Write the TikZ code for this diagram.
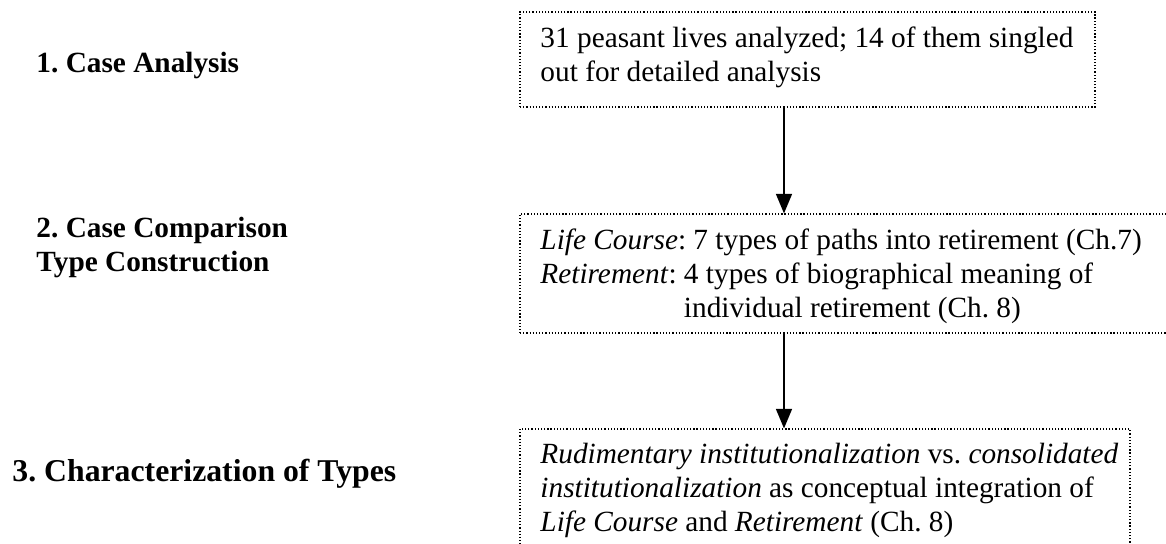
\documentclass[tikz,border=0pt]{standalone}
\usepackage{fontspec}
\setmainfont{Liberation Serif}
\usetikzlibrary{arrows.meta,fit}
\tikzset{
  framebox/.style={draw=black, line width=0.45pt, dash pattern=on 0.5pt off 0.8pt, inner sep=0pt},
  boxline/.style={anchor=base west, inner sep=0pt, font=\fontsize{12pt}{14pt}\selectfont},
  stagelabel/.style={anchor=base west, inner sep=0pt, font=\bfseries\fontsize{12pt}{14pt}\selectfont},
  biglabel/.style={anchor=base west, inner sep=0pt, font=\bfseries\fontsize{13pt}{15pt}\selectfont},
  flow/.style={line width=0.8pt, -{Triangle[length=8pt,width=6.5pt]}}
}
\begin{document}
\frenchspacing
\begin{tikzpicture}[x=0.4096pt,y=-0.4096pt]
\useasboundingbox (0,0) rectangle (1166,544);
\clip (0,0) rectangle (1166,544);

% stage labels
\node[stagelabel] (l1)  at (36,73)  {1. Case Analysis};
\node[stagelabel] (l2a) at (36,238) {2. Case Comparison};
\node[stagelabel] (l2b) at (36,272) {Type Construction};
\node[biglabel]   (l3)  at (12,482) {3. Characterization of Types};

% dotted frames
\node[framebox, fit={(520,12) (1095,107)}] (b1) {};
\node[framebox, fit={(520,214) (1190,333)}] (b2) {};
\node[framebox, fit={(520,429) (1130,580)}] (b3) {};

% box contents
\node[boxline] (t1a) at (540,48) {31 peasant lives analyzed; 14 of them singled};
\node[boxline] (t1b) at (540,82) {out for detailed analysis};

\node[boxline] (t2a) at (540,250) {\textit{Life Course}: 7 types of paths into retirement (Ch.7)};
\node[boxline] (t2b) at (540,284) {\textit{Retirement}: 4 types of biographical meaning of};
\node[boxline] (t2c) at (540,318) {\hphantom{\textit{Retirement}: }individual retirement (Ch. 8)};

\node[boxline] (t3a) at (540,464) {\textit{Rudimentary institutionalization} vs. \textit{consolidated}};
\node[boxline] (t3b) at (540,498) {\textit{institutionalization} as conceptual integration of};
\node[boxline] (t3c) at (540,532) {\textit{Life Course} and \textit{Retirement} (Ch. 8)};

% connectors
\coordinate (ax) at (784,0);
\draw[flow] (b1.south -| ax) -- (b2.north -| ax);
\draw[flow] (b2.south -| ax) -- (b3.north -| ax);
\end{tikzpicture}
\end{document}
